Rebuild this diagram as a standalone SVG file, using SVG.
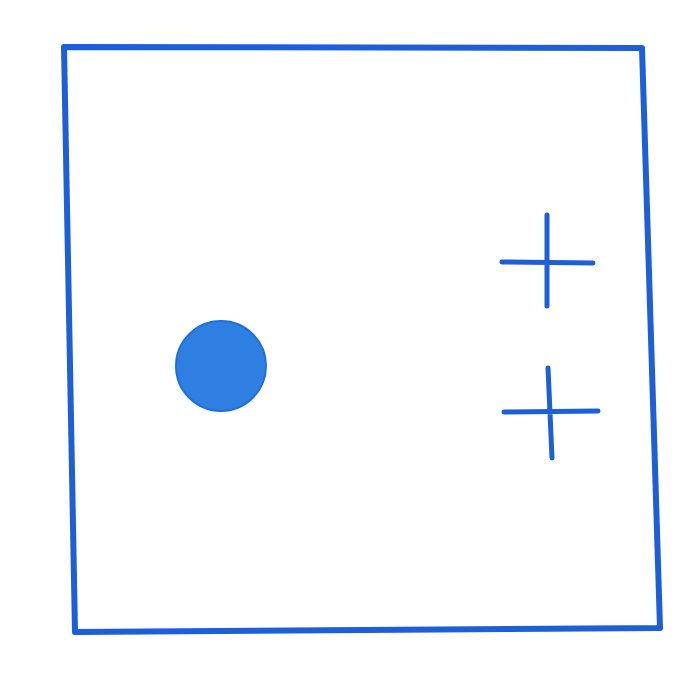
<svg xmlns="http://www.w3.org/2000/svg" width="698" height="698" viewBox="0 0 698 698">
<style>
.ln{fill:none;stroke:#1d5fd6;stroke-linecap:round;stroke-linejoin:round}
.frame{stroke-width:6}
.plus{stroke-width:5}
</style>
<rect width="698" height="698" fill="#ffffff"/>
<g id="frame"><path class="ln frame" d="M64,47 L642,48 L660,628 L75,632 Z"/></g>
<g id="dot"><circle cx="221" cy="366" r="45" fill="#2f7fe3" stroke="#2070dc" stroke-width="2"/></g>
<g id="plus1"><path class="ln plus" d="M502,262 L593,263 M547,215 L547,306"/></g>
<g id="plus2"><path class="ln plus" d="M504,412 L598,411 M548,368 L552,458"/></g>
</svg>
